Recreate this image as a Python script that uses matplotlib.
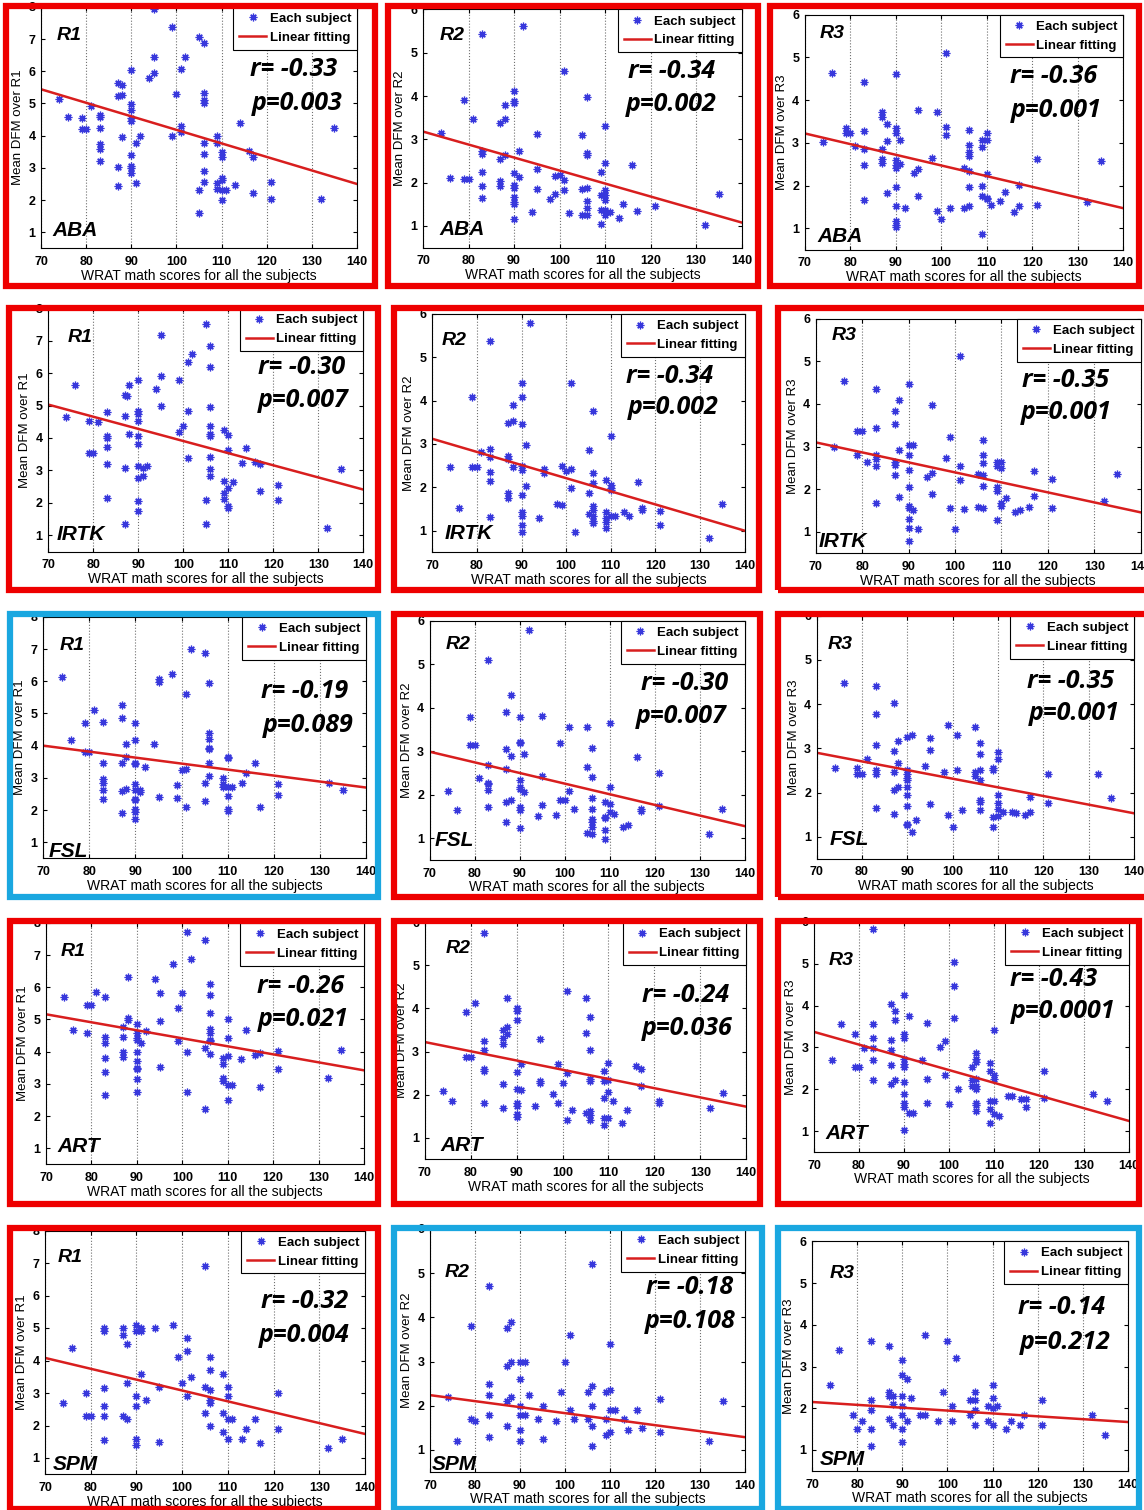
import numpy as np
import matplotlib.pyplot as plt
from matplotlib.patches import Rectangle

plt.rcParams['font.family'] = ['Liberation Sans', 'DejaVu Sans']
plt.rcParams['font.weight'] = 'bold'

# ---- data: (WRAT score, mean DFM) per subject ----
aba_r1 = [(74,5.13),(76,4.57),(79,4.54),(79,4.2),(80,4.2),(81,4.92),
          (83,4.64),(83,4.57),(83,4.25),(83,3.74),(83,3.59),(83,3.21),
          (87,5.64),(87,5.23),(87,3.04),(87,2.44),(88,5.57),(88,5.26),(88,3.97),
          (90,6.04),(90,4.98),(90,4.8),(90,4.54),(90,4.47),(90,3.39),(90,3.07),(90,3.0),(90,2.83),
          (91,3.76),(91,2.54),(92,4.0),(94,5.78),(95,6.43),(95,5.95),(95,7.92),
          (99,7.36),(99,3.99),(100,5.29),(101,6.06),(101,4.3),(101,4.12),(102,6.43),
          (105,7.07),(105,2.31),(105,1.59),
          (106,6.89),(106,5.33),(106,5.1),(106,5.02),(106,3.78),(106,3.42),(106,2.91),(106,2.57),
          (109,3.99),(109,3.76),(109,2.54),(109,2.33),
          (110,3.5),(110,3.35),(110,2.62),(110,2.68),(110,2.0),(110,2.3),
          (111,2.31),(113,2.47),(114,4.38),(116,3.53),(117,3.35),(117,2.23),
          (121,2.56),(121,2.03),(132,2.02),(135,4.23)]
aba_r2 = [(74,3.15),(76,2.1),(79,3.91),(79,2.08),(80,2.08),(81,3.48),
          (83,5.43),(83,2.74),(83,2.66),(83,2.24),(83,1.92),(83,1.65),
          (87,3.38),(87,2.54),(87,2.04),(87,1.92),(88,3.8),(88,3.48),(88,2.63),
          (90,4.12),(90,3.88),(90,3.83),(90,2.22),(90,1.95),(90,1.87),(90,1.66),(90,1.56),(90,1.5),(90,1.16),
          (91,2.72),(91,2.12),(92,5.62),(94,1.33),
          (95,3.12),(95,2.31),(95,1.85),(98,1.62),(99,1.75),(99,2.15),(100,2.18),
          (101,4.58),(101,2.06),(101,1.83),(102,1.29),(105,3.1),(105,1.85),(105,1.25),
          (106,3.98),(106,2.68),(106,2.64),(106,1.87),(106,1.58),(106,1.41),(106,1.25),
          (109,2.25),(109,1.72),(109,1.38),(109,1.05),
          (110,3.31),(110,2.46),(110,1.83),(110,1.72),(110,1.6),(110,1.38),(110,1.25),
          (111,1.33),(113,1.18),(114,1.51),(116,2.41),(117,1.35),(121,1.46),(132,1.02),(135,1.75)]
aba_r3 = [(74,3.03),(76,4.64),(79,3.34),(79,3.24),(80,3.24),(81,2.93),
          (83,4.43),(83,3.28),(83,2.86),(83,2.48),(83,1.66),
          (87,3.73),(87,3.61),(87,2.86),(87,2.61),(87,2.52),(88,3.44),(88,3.04),(88,1.83),
          (90,4.6),(90,3.35),(90,3.22),(90,2.6),(90,2.47),(90,2.42),(90,1.97),(90,1.51),(90,1.16),(90,1.08),(90,1.02),
          (91,3.07),(91,2.5),(92,1.47),(94,2.3),
          (95,3.77),(95,2.38),(95,1.76),(98,2.64),(99,3.73),(99,1.41),(100,1.21),
          (101,5.09),(101,3.38),(101,3.18),(102,1.48),(105,1.47),(105,2.4),
          (106,3.3),(106,2.95),(106,2.79),(106,2.68),(106,2.33),(106,1.96),(106,1.51),
          (109,2.91),(109,3.07),(109,1.99),(109,1.76),(109,0.86),
          (110,3.22),(110,3.07),(110,2.27),(110,1.72),(110,1.68),
          (111,1.55),(113,1.65),(114,1.86),(116,1.39),(117,2.01),(117,1.53),
          (121,2.61),(121,1.55),(132,1.62),(135,2.58)]
irtk_r1 = [(74,4.66),(76,5.62),(79,4.51),(79,3.54),(80,3.54),(81,4.49),
           (83,4.79),(83,4.05),(83,4.0),(83,3.72),(83,3.2),(83,2.15),
           (87,5.34),(87,4.69),(87,3.07),(87,1.36),(87.5,5.28),(88,5.64),(88,4.12),
           (90,5.78),(90,4.82),(90,4.75),(90,4.51),(90,4.07),(90,3.82),(90,3.13),(90,2.77),(90,2.05),(90,1.74),
           (91,3.08),(91,2.84),(92,3.13),(94,5.52),
           (95,7.18),(95,5.92),(95,5.0),(99,5.78),(99,4.17),(100,4.38),
           (101,6.34),(101,4.82),(101,3.38),(102,6.6),(105,7.51),(105,2.08),(105,1.36),
           (106,6.83),(106,6.19),(106,4.95),(106,4.38),(106,4.13),(106,4.07),(106,3.41),(106,3.05),(106,2.82),
           (109,4.24),(109,2.68),(109,2.3),(109,2.13),
           (110,4.08),(110,3.64),(110,2.46),(110,1.91),(110,1.84),
           (111,2.65),(113,3.23),(114,3.69),(116,3.25),(117,3.2),(117,2.38),
           (121,2.55),(121,2.08),(132,1.23),(135,3.05)]
irtk_r2 = [(74,2.47),(76,1.52),(79,4.08),(79,2.46),(80,2.46),(81,2.81),
           (83,5.37),(83,2.88),(83,2.69),(83,2.35),(83,2.15),(83,1.31),
           (87,3.48),(87,2.73),(87,2.65),(87,1.87),(87,1.75),(88,3.89),(88,3.52),(88,2.46),
           (90,4.41),(90,4.08),(90,3.47),(90,2.5),(90,2.41),(90,1.83),(90,1.42),(90,1.33),(90,1.14),(90,0.98),
           (91,2.98),(91,2.02),(92,5.78),(94,1.29),
           (95,2.42),(95,2.33),(98,1.62),(99,1.6),(99,2.5),(100,2.37),
           (101,4.41),(101,2.42),(101,1.98),(102,0.96),(105,2.87),(105,1.88),(105,1.38),
           (106,3.75),(106,2.33),(106,2.1),(106,1.56),(106,1.48),(106,1.33),(106,1.22),(106,1.18),
           (109,2.16),(109,1.42),(109,1.29),(109,1.19),(109,1.06),
           (110,3.18),(110,2.06),(110,1.98),(110,1.93),(110,1.35),
           (111,1.33),(113,1.42),(114,1.33),(116,2.12),(117,1.52),(117,1.48),
           (121,1.45),(121,1.14),(132,0.83),(135,1.62)]
irtk_r3 = [(74,2.99),(76,4.53),(79,3.36),(79,2.81),(80,3.36),(81,2.64),
           (83,4.36),(83,3.44),(83,2.81),(83,2.71),(83,2.54),(83,1.68),
           (87,3.83),(87,3.54),(87,2.63),(87,2.58),(87,2.34),(88,4.09),(88,2.93),(88,1.81),
           (90,4.47),(90,3.05),(90,2.81),(90,2.46),(90,2.05),(90,1.6),(90,1.56),(90,1.3),(90,1.09),(90,0.8),
           (91,3.03),(91,1.52),(92,1.07),(94,2.3),
           (95,3.98),(95,2.38),(95,1.9),(98,2.73),(99,3.23),(99,1.56),(100,1.07),
           (101,5.12),(101,2.55),(101,2.23),(102,1.55),(105,2.36),(105,1.59),
           (106,3.16),(106,2.81),(106,2.62),(106,2.34),(106,2.07),(106,1.56),
           (109,2.63),(109,2.54),(109,2.05),(109,1.95),(109,1.27),
           (110,2.63),(110,2.5),(110,1.68),(110,1.62),
           (111,1.8),(113,1.46),(114,1.52),(116,1.59),(117,2.42),(117,1.85),
           (121,2.25),(121,1.56),(132,1.73),(135,2.36)]
fsl_r1 = [(74,6.12),(76,4.18),(79,4.69),(79,3.81),(80,3.81),(81,5.11),
          (83,4.74),(83,3.47),(83,2.96),(83,2.85),(83,2.62),(83,2.34),
          (87,5.26),(87,4.85),(87,3.47),(87,2.59),(87,1.9),(88,4.05),(88,3.66),(88,2.64),
          (90,4.69),(90,4.16),(90,3.47),(90,3.42),(90,2.81),(90,2.62),(90,2.34),(90,2.31),(90,2.02),(90,1.95),(90,1.71),
          (91,2.62),(91,2.57),(92,3.35),(94,4.05),
          (95,6.06),(95,5.99),(95,2.4),(98,6.22),(99,2.78),(99,2.39),(100,3.24),
          (101,5.6),(101,3.27),(101,2.09),(102,7.0),(105,6.87),(105,2.83),(105,2.28),
          (106,5.93),(106,4.4),(106,4.2),(106,3.94),(106,3.89),(106,3.45),(106,3.06),
          (109,2.99),(109,2.81),(109,2.73),
          (110,3.66),(110,3.63),(110,2.73),(110,2.44),(110,2.02),(110,1.97),
          (111,2.73),(113,2.85),(114,3.16),(116,3.47),(117,2.11),
          (121,2.8),(121,2.47),(132,2.83),(135,2.62)]
fsl_r2 = [(74,2.09),(76,1.65),(79,3.8),(79,3.15),(80,3.15),(81,2.38),
          (83,5.1),(83,2.69),(83,2.28),(83,2.24),(83,2.11),(83,1.73),
          (87,3.9),(87,3.05),(87,2.59),(87,1.84),(87,1.38),(88,4.3),(88,2.9),(88,1.88),
          (90,3.8),(90,3.22),(90,3.18),(90,2.34),(90,2.19),(90,2.13),(90,1.73),(90,1.65),(90,1.23),
          (91,2.94),(91,2.07),(92,5.8),(94,1.51),
          (95,3.81),(95,2.43),(95,1.77),(98,1.54),(99,3.2),(99,1.88),(100,1.88),
          (101,3.57),(101,2.09),(102,1.67),(105,3.57),(105,2.65),(105,1.13),
          (106,3.08),(106,2.42),(106,1.92),(106,1.67),(106,1.44),(106,1.38),(106,1.27),(106,1.1),
          (109,1.84),(109,1.5),(109,1.46),(109,1.18),(109,0.98),
          (110,3.64),(110,2.19),(110,1.79),(110,1.61),
          (111,1.56),(113,1.25),(114,1.31),(116,2.88),(117,1.67),(117,1.63),
          (121,2.49),(121,1.74),(132,1.11),(135,1.67)]
fsl_r3 = [(74,2.55),(76,4.49),(79,2.55),(79,2.43),(80,2.43),(81,2.75),
          (83,4.41),(83,3.77),(83,3.08),(83,2.51),(83,2.42),(83,1.66),
          (87,4.02),(87,2.95),(87,2.47),(87,2.06),(87,1.51),(88,3.17),(88,2.66),(88,2.13),
          (90,3.26),(90,2.52),(90,2.43),(90,2.32),(90,2.28),(90,2.13),(90,1.94),(90,1.69),(90,1.29),(90,1.26),
          (91,3.3),(91,1.11),(92,1.38),(94,2.6),
          (95,3.24),(95,2.96),(95,1.75),(98,2.47),(99,3.53),(99,1.49),(100,1.23),
          (101,3.3),(101,2.52),(102,1.6),(105,3.49),(105,2.47),(105,2.37),
          (106,3.13),(106,2.87),(106,2.51),(106,2.28),(106,1.83),(106,1.79),(106,1.6),
          (109,2.55),(109,2.51),(109,1.45),(109,1.21),
          (110,2.92),(110,2.77),(110,1.94),(110,1.77),(110,1.62),(110,1.47),
          (111,1.57),(113,1.57),(114,1.53),(116,1.49),(117,1.91),(117,1.57),
          (121,2.43),(121,1.77),(132,2.41),(135,1.88)]
art_r1 = [(74,5.7),(76,4.67),(79,5.44),(79,4.57),(80,5.44),(81,5.85),
          (83,5.7),(83,4.47),(83,4.26),(83,3.81),(83,3.38),(83,2.66),
          (87,4.77),(87,4.47),(87,3.99),(87,3.84),(88,6.32),(88,5.06),(88,4.98),
          (90,4.85),(90,4.57),(90,4.43),(90,4.36),(90,3.99),(90,3.71),(90,3.5),(90,3.45),(90,3.14),(90,2.75),
          (91,4.26),(92,4.64),(94,6.27),
          (95,5.81),(95,4.95),(95,3.53),(98,6.73),(99,5.37),(99,4.33),(100,5.81),
          (101,7.71),(101,3.99),(101,2.75),(102,6.87),(105,7.46),(105,4.12),(105,2.23),
          (106,6.09),(106,5.76),(106,5.21),(106,4.69),(106,4.59),(106,4.36),(106,4.33),(106,3.92),
          (109,3.81),(109,3.61),(109,3.19),(109,3.09),
          (110,5.0),(110,4.43),(110,3.87),(110,2.96),(110,2.5),
          (111,2.96),(113,3.78),(114,4.67),(116,3.89),(117,3.95),(117,2.9),
          (121,4.02),(121,3.47),(132,3.19),(135,4.05)]
art_r2 = [(74,2.08),(76,1.85),(79,3.92),(79,2.88),(80,2.88),(81,4.12),
          (83,5.74),(83,3.24),(83,3.03),(83,2.59),(83,2.55),(83,1.8),
          (87,3.51),(87,3.32),(87,3.17),(87,2.24),(87,1.7),(88,4.23),(88,3.57),(88,3.4),
          (90,4.02),(90,3.94),(90,3.73),(90,2.52),(90,2.12),(90,1.8),(90,1.74),(90,1.54),(90,1.49),
          (91,2.7),(91,2.1),(94,1.74),
          (95,3.28),(95,2.32),(95,2.28),(98,2.01),(99,2.7),(99,1.8),(100,2.28),
          (101,4.4),(101,2.51),(101,1.41),(102,1.64),(105,4.23),(105,3.42),(105,1.58),
          (106,3.79),(106,3.03),(106,2.37),(106,2.32),(106,1.62),(106,1.52),(106,1.4),
          (109,2.55),(109,2.32),(109,1.93),(109,1.46),(109,1.29),
          (110,2.74),(110,2.35),(110,2.06),(110,1.46),
          (111,1.85),(113,1.35),(114,1.64),(116,2.66),(117,2.6),(117,2.21),
          (121,1.85),(121,1.8),(132,1.7),(135,2.04)]
art_r3 = [(74,2.7),(76,3.55),(79,3.31),(79,2.54),(80,2.54),(81,2.98),
          (83,5.84),(83,3.55),(83,3.23),(83,2.99),(83,2.7),(83,2.21),
          (87,4.03),(87,3.18),(87,2.94),(87,2.58),(87,2.12),(88,3.87),(88,3.65),(88,2.21),
          (90,4.25),(90,3.33),(90,3.23),(90,2.71),(90,2.59),(90,2.54),(90,2.17),(90,1.88),(90,1.68),(90,1.58),(90,1.02),
          (91,3.76),(91,1.44),(92,1.42),(94,2.69),
          (95,3.59),(95,2.24),(95,1.66),(98,3.01),(99,3.15),(99,2.35),(100,1.64),
          (101,5.04),(101,4.47),(101,3.71),(102,2.0),(105,2.54),(105,2.22),(105,2.08),
          (106,2.87),(106,2.71),(106,2.65),(106,2.24),(106,2.08),(106,2.0),(106,1.68),(106,1.61),(106,1.48),
          (109,2.63),(109,2.43),(109,1.72),(109,1.53),(109,1.2),
          (110,3.41),(110,2.35),(110,2.24),(110,1.72),(110,1.4),
          (111,1.37),(113,1.84),(114,1.84),(116,1.77),(117,1.77),(117,1.57),
          (121,2.43),(121,1.8),(132,1.88),(135,1.72)]
spm_r1 = [(74,2.7),(76,4.4),(79,3.0),(79,2.3),(80,2.3),
          (83,5.0),(83,4.9),(83,3.15),(83,2.6),(83,2.3),(83,1.55),
          (87,5.0),(87,4.8),(87,2.3),(88,4.5),(88,3.3),(88,2.2),
          (90,5.1),(90,4.9),(90,2.9),(90,2.6),(90,1.6),(90,1.4),
          (91,5.0),(91,4.9),(91,3.6),(92,2.8),(94,5.0),(95,1.5),(95,3.2),
          (98,5.1),(99,4.1),(100,3.3),(101,4.7),(101,4.3),(101,2.9),(102,3.5),
          (105,6.9),(105,3.2),(105,2.4),
          (106,4.1),(106,3.7),(106,3.1),(106,2.8),(106,2.7),(106,2.0),
          (109,3.6),(109,2.4),(109,1.8),(110,3.2),(110,2.9),(110,2.2),(110,1.6),
          (111,2.2),(113,1.6),(114,1.9),(116,2.2),(117,1.45),
          (121,3.0),(121,1.9),(132,1.3),(135,1.6)]
spm_r2 = [(74,2.2),(76,1.2),(79,3.8),(79,1.7),(80,1.65),
          (83,4.7),(83,2.5),(83,2.25),(83,1.8),(83,1.3),
          (87,3.75),(87,2.9),(87,2.1),(87,1.55),(88,3.9),(88,3.0),(88,2.2),
          (90,3.0),(90,2.6),(90,2.0),(90,1.8),(90,1.45),(90,1.2),
          (91,3.0),(91,1.8),(92,2.25),(94,1.7),(95,2.0),(95,1.25),
          (98,1.65),(99,2.3),(100,3.0),(101,3.6),(101,1.9),(102,1.7),
          (105,2.3),(105,1.7),(106,5.2),(106,2.45),(106,2.0),(106,1.55),(106,1.1),
          (109,2.3),(109,1.7),(109,1.35),(110,3.4),(110,2.35),(110,1.9),(110,1.4),
          (111,1.9),(113,1.7),(114,1.45),(116,1.9),(117,1.5),
          (121,2.15),(121,1.4),(132,1.2),(135,2.1)]
spm_r3 = [(74,2.55),(76,3.4),(79,1.85),(80,1.5),(81,1.7),
          (83,3.6),(83,2.2),(83,1.95),(83,1.5),(83,1.1),
          (87,3.5),(87,2.4),(87,2.3),(87,1.75),(88,2.3),(88,2.1),(88,1.6),
          (90,3.15),(90,2.8),(90,2.3),(90,2.05),(90,1.85),(90,1.5),(90,1.2),
          (91,2.7),(91,1.7),(92,2.25),(94,1.85),(95,3.75),(95,1.85),
          (98,1.7),(99,2.4),(100,3.6),(101,2.05),(101,1.7),(102,3.2),
          (105,2.2),(105,1.85),(106,2.4),(106,2.2),(106,1.95),(106,1.6),
          (109,2.05),(109,1.7),(110,2.55),(110,2.25),(110,2.0),(110,1.6),
          (111,2.05),(113,1.5),(114,1.7),(116,1.6),(117,1.85),
          (121,2.2),(121,1.6),(132,1.85),(135,1.35)]

panel_data = [aba_r1, aba_r2, aba_r3, irtk_r1, irtk_r2, irtk_r3,
              fsl_r1, fsl_r2, fsl_r3, art_r1, art_r2, art_r3,
              spm_r1, spm_r2, spm_r3]
methods = ['ABA', 'IRTK', 'FSL', 'ART', 'SPM']
regions = ['R1', 'R2', 'R3']
r_values = ['-0.33', '-0.34', '-0.36', '-0.30', '-0.34', '-0.35', '-0.19', '-0.30',
            '-0.35', '-0.26', '-0.24', '-0.43', '-0.32', '-0.18', '-0.14']
p_values = ['0.003', '0.002', '0.001', '0.007', '0.002', '0.001', '0.089', '0.007',
            '0.001', '0.021', '0.036', '0.0001', '0.004', '0.108', '0.212']
# linear fit read at x=70 and x=140
fit_at_70 = [5.44, 3.18, 3.22, 5.03, 3.12, 3.10, 4.00, 2.99, 2.90, 5.16, 3.22, 3.37, 4.08, 2.24, 2.15]
fit_at_140 = [2.50, 1.08, 1.47, 2.41, 1.00, 1.46, 2.70, 1.28, 1.53, 3.42, 1.72, 1.24, 1.74, 1.29, 1.67]
highlight = [False, False, False, False, False, False, True, False, False,
             False, False, False, False, True, True]

# ---- layout (pixels): x of 70, x of 140, y of tick 1, y of tick k, k ----
W, H = 1144, 1510
axes_px = [(41, 357, 232.3, 39, 7), (423, 741.7, 226, 52.7, 5), (804.7, 1123.3, 228.3, 57.3, 5),
           (48.3, 363.3, 535.3, 340.7, 7), (432.3, 744.7, 530.7, 357.3, 5), (815.7, 1140.7, 532, 361.3, 5),
           (43.3, 366, 842.3, 649, 7), (429.7, 744.7, 838.3, 664.3, 5), (816.7, 1134, 836.7, 660, 5),
           (46, 364, 1148.3, 955, 7), (424.7, 746.3, 1137.7, 965.3, 5), (814, 1129, 1131, 963.7, 5),
           (45, 365, 1458, 1263, 7), (430, 745, 1450, 1273, 5), (812, 1128, 1450, 1283, 5)]
borders = [(3, 3, 378, 289), (385, 3, 761, 289), (767, 3, 1142, 289),
           (6, 305, 381, 593), (391, 305, 762, 593), (775, 305, 1160, 593),
           (7, 611, 381, 900), (391, 611, 763, 900), (775, 611, 1160, 900),
           (7, 918, 381, 1207), (391, 918, 763, 1207), (775, 918, 1142, 1207),
           (7, 1225, 381, 1512), (391, 1225, 765, 1512), (775, 1225, 1142, 1512)]
# axes-fraction positions: region label, method label, r text, p text
text_pos = [((0.05, 0.88), (0.035, 0.075), (0.80, 0.74), (0.81, 0.60)),
            ((0.053, 0.89), (0.05, 0.075), (0.78, 0.74), (0.78, 0.60)),
            ((0.048, 0.92), (0.04, 0.054), (0.78, 0.735), (0.79, 0.594)),
            ((0.06, 0.88), (0.028, 0.07), (0.805, 0.755), (0.81, 0.62)),
            ((0.03, 0.89), (0.04, 0.08), (0.76, 0.736), (0.77, 0.606)),
            ((0.048, 0.926), (0.01, 0.05), (0.77, 0.735), (0.77, 0.60)),
            ((0.05, 0.883), (0.015, 0.03), (0.81, 0.69), (0.82, 0.55)),
            ((0.05, 0.90), (0.017, 0.08), (0.81, 0.74), (0.80, 0.60)),
            ((0.033, 0.88), (0.04, 0.08), (0.80, 0.73), (0.81, 0.60)),
            ((0.047, 0.88), (0.037, 0.075), (0.80, 0.735), (0.81, 0.60)),
            ((0.064, 0.89), (0.05, 0.06), (0.81, 0.69), (0.815, 0.55)),
            ((0.047, 0.83), (0.035, 0.08), (0.76, 0.75), (0.79, 0.61)),
            ((0.04, 0.89), (0.025, 0.04), (0.81, 0.71), (0.81, 0.57)),
            ((0.048, 0.82), (0.006, 0.03), (0.825, 0.76), (0.825, 0.62)),
            ((0.057, 0.86), (0.025, 0.05), (0.79, 0.71), (0.80, 0.56))]

fig = plt.figure(figsize=(W / 100, H / 100), dpi=100)

for i, pts in enumerate(panel_data):
    x70, x140, y1, yk, k = axes_px[i]
    unit = (y1 - yk) / (k - 1)
    ytop = 8 if k == 7 else 6
    top = y1 - (ytop - 1) * unit
    bottom = y1 + 0.5 * unit
    ax = fig.add_axes([x70 / W, 1 - bottom / H, (x140 - x70) / W, (bottom - top) / H])

    xs, ys = zip(*pts)
    pt, = ax.plot(xs, ys, ls='none', marker=(8, 2, 0), ms=5.5, mew=0.9,
                  mec='#3838dc', label='Each subject')
    ln, = ax.plot([70, 140], [fit_at_70[i], fit_at_140[i]], color='#d81e1e', lw=1.8,
                  label='Linear fitting')
    ax.set_xlim(70, 140)
    ax.set_ylim(0.5, ytop)
    ax.set_xticks(range(70, 141, 10))
    ax.set_yticks(range(1, ytop + 1))
    ax.xaxis.grid(True, ls=':', color='#707070', lw=0.8)
    ax.tick_params(direction='in', top=True, right=True, length=3, labelsize=9, pad=4)
    ax.tick_params(axis='x', pad=5.5)
    for s in ax.spines.values():
        s.set_linewidth(0.8)
    ax.set_xlabel('WRAT math scores for all the subjects', fontsize=10, labelpad=0.5)
    ax.set_ylabel('Mean DFM over ' + regions[i % 3], fontsize=9.5, labelpad=3)

    leg = ax.legend(handles=[pt, ln], loc='upper right', borderaxespad=0, fancybox=False,
                    edgecolor='black', framealpha=1, fontsize=9.5, handlelength=2.05,
                    handletextpad=0.25, borderpad=0.45, labelspacing=0.5, numpoints=1)
    leg.get_frame().set_linewidth(0.8)

    rp, mp, tp, pp = text_pos[i]
    ax.text(rp[0], rp[1], regions[i % 3], transform=ax.transAxes, fontsize=14,
            style='italic', fontweight='bold', va='center', ha='left')
    ax.text(mp[0], mp[1], methods[i // 3], transform=ax.transAxes, fontsize=15,
            style='italic', fontweight='bold', va='center', ha='left')
    ax.text(tp[0], tp[1], 'r= ' + r_values[i], transform=ax.transAxes, fontsize=18,
            family=['Open Sans', 'DejaVu Sans'], style='italic', fontweight='bold',
            va='center', ha='center')
    ax.text(pp[0], pp[1], 'p=' + p_values[i], transform=ax.transAxes, fontsize=18,
            family=['Open Sans', 'DejaVu Sans'], style='italic', fontweight='bold',
            va='center', ha='center')

    bx0, by0, bx1, by1 = borders[i]
    color = '#1aa7e0' if highlight[i] else '#ee0000'
    fig.add_artist(Rectangle(((bx0 + 3) / W, 1 - (by1 - 3) / H), (bx1 - bx0 - 6) / W,
                             (by1 - by0 - 6) / H, transform=fig.transFigure, fill=False,
                             ec=color, lw=4.5, zorder=10))

fig.savefig('out.png', dpi=100, facecolor='white')
